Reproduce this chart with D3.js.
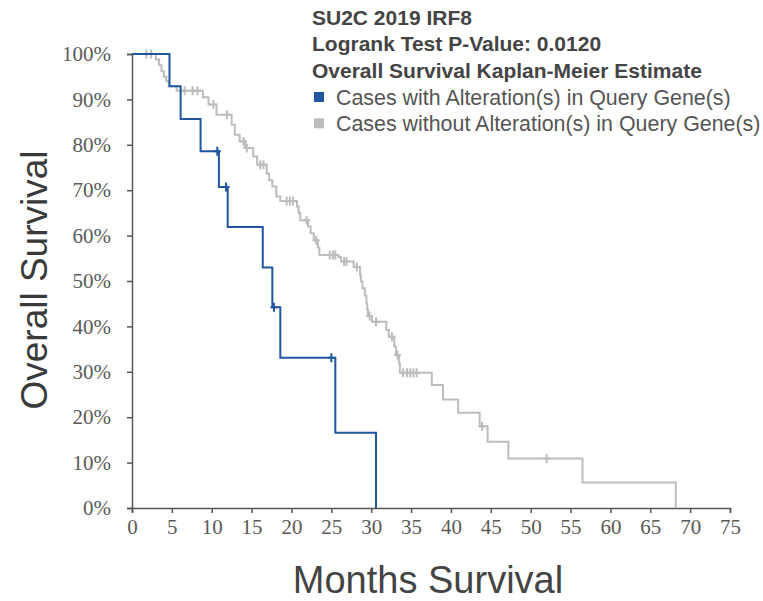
<!DOCTYPE html>
<html>
<head>
<meta charset="utf-8">
<script src="https://cdn.jsdelivr.net/npm/d3@7"></script>
<style>
  html, body { margin: 0; padding: 0; background: #fff; }
  svg { display: block; }
</style>
</head>
<body>
<svg id="chart" width="763" height="601"></svg>
<script>
// Axis tick values
const monthTicks = [0, 5, 10, 15, 20, 25, 30, 35, 40, 45, 50, 55, 60, 65, 70, 75];
const survivalTicks = [0, 0.1, 0.2, 0.3, 0.4, 0.5, 0.6, 0.7, 0.8, 0.9, 1.0];

// Kaplan-Meier steps: time of each drop (months) and survival after it
const alteredTimes    = [4.7, 6.1, 8.6, 10.9, 12.0, 16.4, 17.6, 18.6, 25.5, 30.6];
const alteredSurvival = [0.929, 0.857, 0.786, 0.707, 0.619, 0.530, 0.442, 0.331, 0.166, 0];
const alteredCensored = [10.7, 11.8, 17.8, 25.0];

const unalteredTimes = [3.0, 3.4, 3.7, 4.0, 4.3, 4.6, 5.6, 8.9, 9.6, 10.6,
  12.5, 12.9, 13.5, 14.2, 15.2, 15.7, 16.9, 17.2, 17.6, 18.1, 18.6,
  20.7, 20.9, 21.1, 22.1, 22.4, 22.8, 23.3, 23.5, 25.9, 26.2, 27.8,
  28.6, 28.7, 28.9, 29.2, 29.4, 29.5, 29.6, 30.1, 31.9, 32.2, 32.9, 33.1,
  33.5, 33.6, 37.6, 39.0, 40.9, 43.6, 44.6, 47.2, 56.5, 68.2];
const unalteredSurvival = [0.988, 0.975, 0.962, 0.950, 0.940, 0.929, 0.919, 0.905, 0.889, 0.866,
  0.844, 0.822, 0.807, 0.793, 0.774, 0.756, 0.737, 0.722, 0.708, 0.686, 0.676,
  0.664, 0.650, 0.634, 0.620, 0.605, 0.590, 0.574, 0.557, 0.553, 0.543, 0.531,
  0.513, 0.499, 0.484, 0.468, 0.451, 0.437, 0.423, 0.410, 0.392, 0.377, 0.356, 0.337,
  0.318, 0.298, 0.271, 0.239, 0.210, 0.180, 0.146, 0.109, 0.056, 0];
const unalteredCensored = [1.8, 2.4, 6.6, 7.6, 8.2, 10.2, 11.9, 14.0, 14.4, 16.1, 16.5,
  19.4, 19.8, 20.2, 21.9, 23.1, 24.8, 25.2, 25.5, 26.6, 26.9, 28.2, 29.8, 30.6,
  32.6, 33.3, 34.0, 34.5, 34.9, 35.3, 35.7, 43.9, 52.0];

const titleLines = ["SU2C 2019 IRF8", "Logrank Test P-Value: 0.0120", "Overall Survival Kaplan-Meier Estimate"];
const legendLabels = ["Cases with Alteration(s) in Query Gene(s)", "Cases without Alteration(s) in Query Gene(s)"];
const seriesColors = ["#22559f", "#bdbdbd"];

const svg = d3.select("#chart");

const x = d3.scaleLinear().domain([0, 75]).range([132, 730]);
const y = d3.scaleLinear().domain([0, 1]).range([508, 54]);

const axisColor = "#555";
const tickFont = "'Liberation Serif', 'DejaVu Serif', serif";
const sansFont = "'Liberation Sans', Arial, sans-serif";

// X axis
const xAxis = svg.append("g")
  .attr("transform", `translate(0,${y(0)})`)
  .call(d3.axisBottom(x).tickValues(monthTicks).tickSize(5).tickPadding(6).tickFormat(d3.format("d")));
// Y axis
const yAxis = svg.append("g")
  .attr("transform", `translate(${x(0)},0)`)
  .call(d3.axisLeft(y).tickValues(survivalTicks).tickSize(5).tickPadding(16).tickFormat(d3.format(".0%")));

[xAxis, yAxis].forEach(g => {
  g.select(".domain").attr("stroke", axisColor).attr("stroke-width", 1.5);
  g.selectAll(".tick line").attr("stroke", axisColor).attr("stroke-width", 1.5);
  g.selectAll(".tick text")
    .attr("fill", "#5a5a5a")
    .style("font-family", tickFont)
    .style("font-size", "21px");
});

// Step function lookup used to place censor marks
function survivalAt(times, surv, t) {
  let s = 1;
  for (let i = 0; i < times.length; i++) { if (times[i] <= t) s = surv[i]; }
  return s;
}

const stepLine = d3.line().x(d => x(d[0])).y(d => y(d[1])).curve(d3.curveStepAfter);

const series = [
  { times: unalteredTimes, surv: unalteredSurvival, cens: unalteredCensored, color: seriesColors[1] },
  { times: alteredTimes, surv: alteredSurvival, cens: alteredCensored, color: seriesColors[0] }
];

series.forEach(s => {
  const pts = [[0, 1]].concat(s.times.map((t, i) => [t, s.surv[i]]));
  svg.append("path")
    .attr("d", stepLine(pts))
    .attr("fill", "none")
    .attr("stroke", s.color)
    .attr("stroke-width", 2);

  svg.append("g").selectAll("path")
    .data(s.cens)
    .join("path")
    .attr("transform", d => `translate(${x(d)},${y(survivalAt(s.times, s.surv, d))})`)
    .attr("d", "M0,-4.5V4.5M-3.5,0H3.5")
    .attr("stroke", s.color)
    .attr("stroke-width", 2)
    .attr("fill", "none");
});

// Titles
svg.append("g").selectAll("text")
  .data(titleLines)
  .join("text")
  .attr("x", 312)
  .attr("y", (d, i) => 25 + i * 26.3)
  .attr("fill", "#444")
  .style("font-family", sansFont)
  .style("font-weight", "bold")
  .style("font-size", "21px")
  .text(d => d);

// Legend
const legend = svg.append("g").selectAll("g")
  .data(legendLabels)
  .join("g")
  .attr("transform", (d, i) => `translate(314,${97 + i * 26.3})`);
legend.append("rect")
  .attr("x", 0).attr("y", -5)
  .attr("width", 10).attr("height", 10)
  .attr("fill", (d, i) => seriesColors[i]);
legend.append("text")
  .attr("x", 22).attr("y", 7.5)
  .attr("fill", "#555")
  .style("font-family", sansFont)
  .style("font-size", "21.4px")
  .text(d => d);

// Axis titles
svg.append("text")
  .attr("x", 428).attr("y", 593)
  .attr("text-anchor", "middle")
  .attr("fill", "#444")
  .style("font-family", sansFont)
  .style("font-size", "38px")
  .text("Months Survival");

svg.append("text")
  .attr("transform", "translate(47,280) rotate(-90)")
  .attr("text-anchor", "middle")
  .attr("fill", "#3a3a3a")
  .style("font-family", sansFont)
  .style("font-size", "37px")
  .text("Overall Survival");
</script>
</body>
</html>
